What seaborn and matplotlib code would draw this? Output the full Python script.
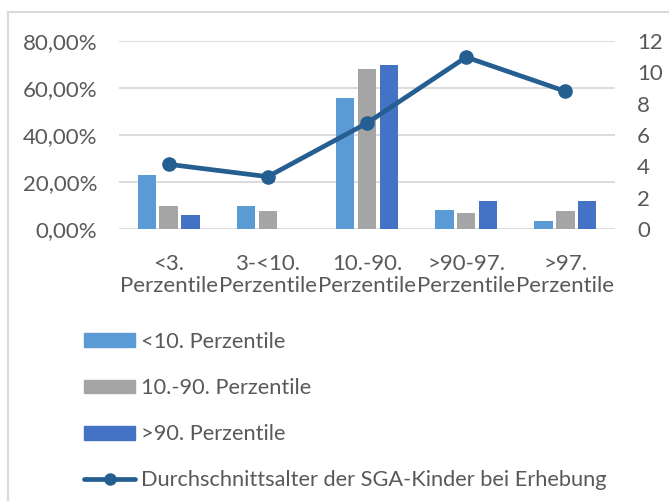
import matplotlib
matplotlib.use("Agg")
import matplotlib.pyplot as plt
import matplotlib.patches as mpatches
import matplotlib.ticker as mticker
import numpy as np
import pandas as pd
import seaborn as sns

categories = ["<3.\nPerzentile", "3-<10.\nPerzentile", "10.-90.\nPerzentile",
              ">90-97.\nPerzentile", ">97.\nPerzentile"]
series_names = ["<10. Perzentile", "10.-90. Perzentile", ">90. Perzentile"]
vals_lt10 = [0.230, 0.097, 0.558, 0.081, 0.033]
vals_10_90 = [0.096, 0.076, 0.679, 0.067, 0.076]
vals_gt90 = [0.060, 0.0, 0.699, 0.120, 0.120]
line_name = "Durchschnittsalter der SGA-Kinder bei Erhebung"
age_values = [4.13, 3.34, 6.76, 10.97, 8.79]
left_ticks = [0.0, 0.2, 0.4, 0.6, 0.8]
right_ticks = [0, 2, 4, 6, 8, 10, 12]

colors = ["#5B9BD5", "#A5A5A5", "#4472C4"]
line_color = "#255E91"
text_color = "#595959"
grid_color = "#D9D9D9"
FS = 16

sns.set_theme(style="white")
plt.rcParams["font.family"] = ["Lato", "DejaVu Sans"]

df = pd.DataFrame({
    "cat": categories * 3,
    "series": sum([[s] * len(categories) for s in series_names], []),
    "value": vals_lt10 + vals_10_90 + vals_gt90,
})

fig = plt.figure(figsize=(6.69, 5.01), dpi=100)
ax = fig.add_axes([119 / 669, 1 - 229 / 501, (615 - 119) / 669, (229 - 41) / 501])

sns.barplot(data=df, x="cat", y="value", hue="series", order=categories,
            hue_order=series_names, palette=colors, width=0.66, gap=0.15,
            ax=ax, legend=False, saturation=1, linewidth=0)

ax.set_ylim(0, 0.8)
ax.set_xlim(-0.5, len(categories) - 0.5)
ax.set_yticks(left_ticks)
ax.yaxis.set_major_formatter(mticker.FuncFormatter(lambda v, p: f"{v*100:.2f}%".replace(".", ",")))
ax.grid(axis="y", color=grid_color, linewidth=1.3)
ax.set_axisbelow(True)
for s in ax.spines.values():
    s.set_visible(False)
ax.tick_params(axis="both", length=0, labelsize=FS, colors=text_color)
ax.tick_params(axis="y", pad=15.5)
ax.tick_params(axis="x", pad=18)
ax.set_xlabel("")
ax.set_ylabel("")
for lbl in ax.get_xticklabels():
    lbl.set_linespacing(1.13)

ax2 = ax.twinx()
sns.lineplot(x=categories, y=age_values, sort=False, ax=ax2, color=line_color,
             linewidth=3.4, marker="o", markersize=10.5, markeredgewidth=0)
ax2.set_ylim(0, 12)
ax2.set_yticks(right_ticks)
for s in ax2.spines.values():
    s.set_visible(False)
ax2.tick_params(axis="y", length=0, labelsize=FS, colors=text_color, pad=16)
ax2.set_ylabel("")

handles = [mpatches.Patch(color=c, label=n) for c, n in zip(colors, series_names)]
handles.append(plt.Line2D([], [], color=line_color, linewidth=3.4, marker="o",
                          markersize=9, markeredgewidth=0, label=line_name))
leg = fig.legend(handles=handles, loc="upper left", bbox_to_anchor=(84 / 669, 1 - 332 / 501),
                 frameon=False, fontsize=15.7, labelspacing=1.2, handlelength=2.35,
                 handleheight=0.6, handletextpad=0.27, borderpad=0, borderaxespad=0)
for t in leg.get_texts():
    t.set_color(text_color)

fig.patches.append(mpatches.Rectangle((8 / 669, -0.1), 1.2, 0.1 + 1 - 12 / 501,
                                      transform=fig.transFigure, fill=False,
                                      edgecolor=grid_color, linewidth=1.5))

fig.savefig("out.png", dpi=100)
